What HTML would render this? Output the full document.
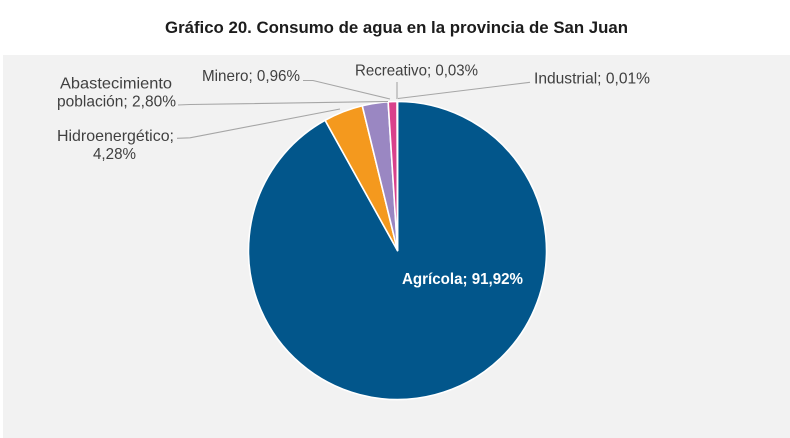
<!DOCTYPE html>
<html>
<head>
<meta charset="utf-8">
<style>
html,body{margin:0;padding:0;background:#ffffff;}
body{width:790px;height:438px;overflow:hidden;}
svg{display:block;}
text{font-family:"Liberation Sans",Arial,sans-serif;}
</style>
</head>
<body>
<svg width="790" height="438" viewBox="0 0 790 438" xmlns="http://www.w3.org/2000/svg">
  <rect x="0" y="0" width="790" height="438" fill="#ffffff"/>
  <rect x="3" y="55" width="787" height="383" fill="#f2f2f2"/>

  <!-- Title -->
  <text x="165" y="33" font-size="17" font-weight="bold" fill="#1c1c1c" textLength="463" lengthAdjust="spacingAndGlyphs">Gráfico 20. Consumo de agua en la provincia de San Juan</text>

  <!-- Pie slices -->
  <g stroke="#ffffff" stroke-width="1.6" stroke-linejoin="round">
    <path d="M397.5 250.5 L397.5 101.5 A149 149 0 1 1 325.07 120.29 Z" fill="#02568b"/>
    <path d="M397.5 250.5 L325.07 120.29 A149 149 0 0 1 362.26 105.73 Z" fill="#f4991e"/>
    <path d="M397.5 250.5 L362.26 105.73 A149 149 0 0 1 388.14 101.79 Z" fill="#9a87c2"/>
    <path d="M397.5 250.5 L388.14 101.79 A149 149 0 0 1 397.13 101.5 Z" fill="#d9418b"/>
    <path d="M397.5 250.5 L397.13 101.5 A149 149 0 0 1 397.41 101.5 Z" fill="#7fb0d6"/>
    <path d="M397.5 250.5 L397.41 101.5 A149 149 0 0 1 397.5 101.5 Z" fill="#c0c0c0"/>
  </g>

  <!-- Leader lines -->
  <g stroke="#a6a6a6" stroke-width="1.1" fill="none">
    <polyline points="303,80.5 313,80.5 390,99"/>
    <polyline points="178,105 190,104.5 388,101.5"/>
    <polyline points="177,138.3 190,137.8 340,109"/>
    <polyline points="397,82 397,99"/>
    <polyline points="530,82.3 398,98.5"/>
  </g>

  <!-- Labels -->
  <g font-size="16" fill="#404040">
    <text x="60" y="88.3" textLength="112" lengthAdjust="spacingAndGlyphs">Abastecimiento</text>
    <text x="57" y="106.7" textLength="119" lengthAdjust="spacingAndGlyphs">población; 2,80%</text>
    <text x="57" y="141" textLength="117" lengthAdjust="spacingAndGlyphs">Hidroenergético;</text>
    <text x="93" y="159" textLength="43" lengthAdjust="spacingAndGlyphs">4,28%</text>
    <text x="202" y="81" textLength="98" lengthAdjust="spacingAndGlyphs">Minero; 0,96%</text>
    <text x="355" y="75.7" textLength="123" lengthAdjust="spacingAndGlyphs">Recreativo; 0,03%</text>
    <text x="534" y="83.3" textLength="116" lengthAdjust="spacingAndGlyphs">Industrial; 0,01%</text>
  </g>

  <text x="402" y="284" font-size="16" font-weight="bold" fill="#ffffff" textLength="121" lengthAdjust="spacingAndGlyphs">Agrícola; 91,92%</text>
</svg>
</body>
</html>
